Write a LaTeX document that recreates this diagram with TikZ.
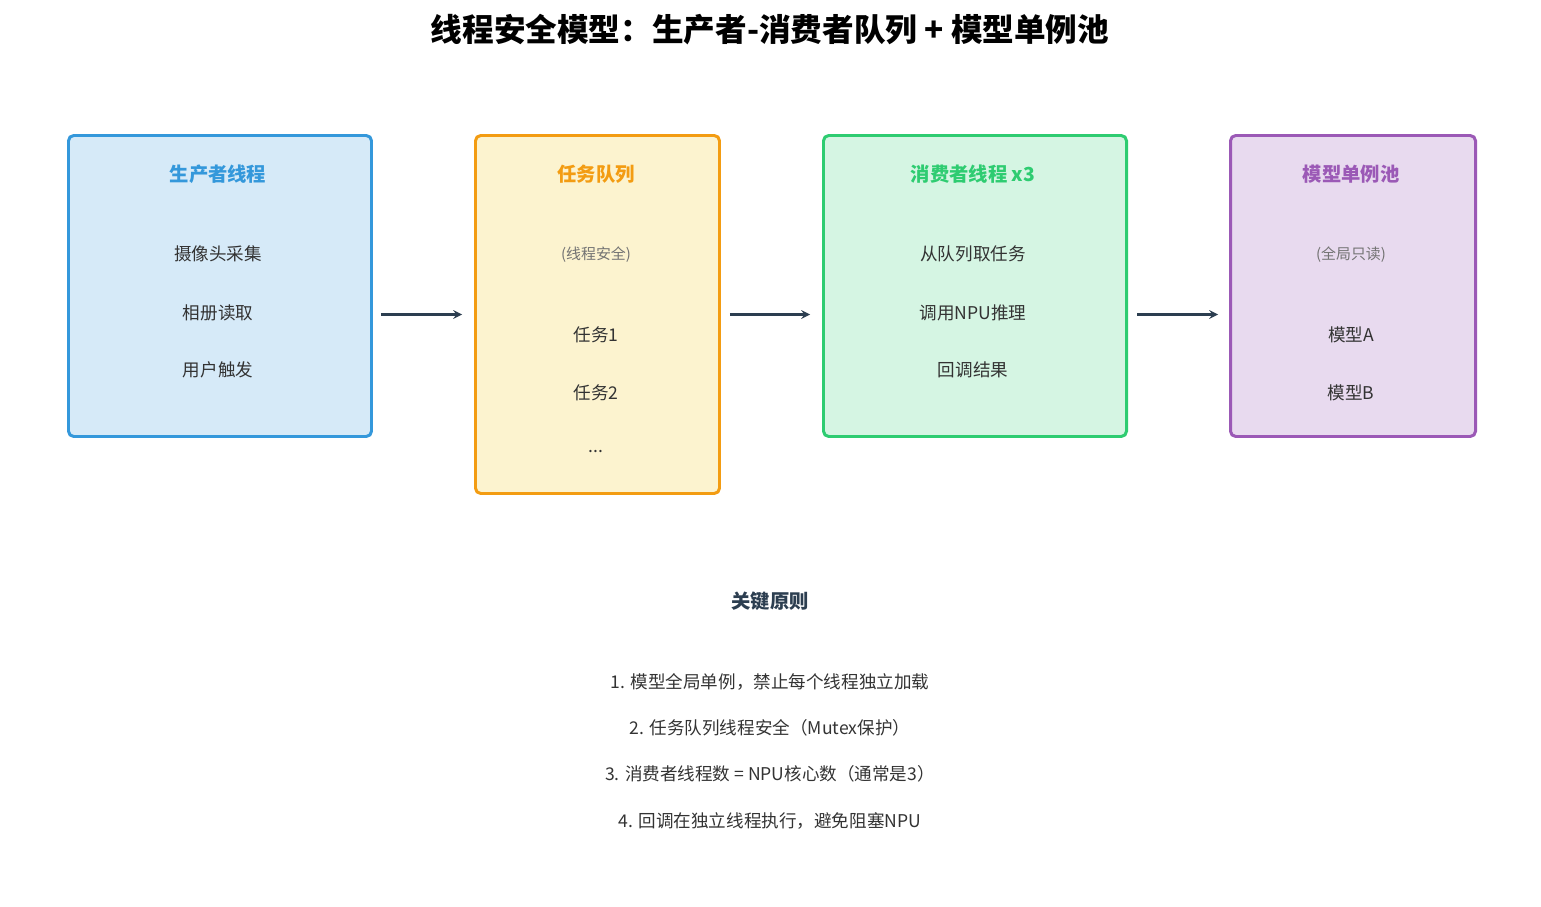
\documentclass[tikz,border=0pt]{standalone}
\usepackage{fontspec}
\setmainfont{Noto Sans CJK SC}
\usepackage{tikz}
\definecolor{pblue}{HTML}{3498DB}\definecolor{pbluef}{HTML}{D6EAF8}
\definecolor{qyel}{HTML}{F39C12}\definecolor{qyelf}{HTML}{FCF3CF}
\definecolor{cgrn}{HTML}{2ECC71}\definecolor{cgrnf}{HTML}{D5F5E3}
\definecolor{mpur}{HTML}{9B59B6}\definecolor{mpurf}{HTML}{E8DAEF}
\definecolor{dark}{HTML}{2C3E50}\definecolor{txt}{HTML}{333333}
\tikzset{
  box/.style={draw,line width=1.7pt,rounded corners=3pt,anchor=north west},
  head/.style={font=\fontsize{11}{13}\selectfont\bfseries},
  item/.style={text=txt,font=\fontsize{10}{12}\selectfont},
  note/.style={text=gray!90!black,font=\fontsize{8.5}{10}\selectfont},
  arr/.style={-stealth,line width=1.2pt,draw=dark}
}
\begin{document}
\begin{tikzpicture}[x=0.02cm,y=-0.02cm]
\useasboundingbox (0,0) rectangle (1541,906);

\node[font=\fontsize{18}{22}\selectfont\bfseries] (title) at (770,30) {线程安全模型：生产者-消费者队列 + 模型单例池};

\node[box,draw=pblue,fill=pbluef,minimum width=303*0.02cm,minimum height=301*0.02cm] (prod) at (67,134) {};
\node[box,draw=qyel,fill=qyelf,minimum width=244*0.02cm,minimum height=358*0.02cm] (queue) at (474,134) {};
\node[box,draw=cgrn,fill=cgrnf,minimum width=303*0.02cm,minimum height=301*0.02cm] (cons) at (822,134) {};
\node[box,draw=mpur,fill=mpurf,minimum width=245*0.02cm,minimum height=301*0.02cm] (pool) at (1229,134) {};

\node[head,text=pblue] (prodh) at (218,174) {生产者线程};
\node[item] (p1) at (218,254) {摄像头采集};
\node[item] (p2) at (218,313) {相册读取};
\node[item] (p3) at (218,370) {用户触发};

\node[head,text=qyel] (queueh) at (596,174) {任务队列};
\node[note] (q0) at (596,255) {(线程安全)};
\node[item] (q1) at (596,335) {任务1};
\node[item] (q2) at (596,393) {任务2};
\node[item] (q3) at (596,452) {...};

\node[head,text=cgrn] (consh) at (973,174) {消费者线程 x3};
\node[item] (c1) at (973,254) {从队列取任务};
\node[item] (c2) at (973,313) {调用NPU推理};
\node[item] (c3) at (973,370) {回调结果};

\node[head,text=mpur] (poolh) at (1351,174) {模型单例池};
\node[note] (m0) at (1351,255) {(全局只读)};
\node[item] (m1) at (1351,335) {模型A};
\node[item] (m2) at (1351,393) {模型B};

\draw[arr,shorten <=8*0.02cm,shorten >=12*0.02cm] (queue.west -| prod.east) -- (queue.west);
\draw[arr,shorten <=9*0.02cm,shorten >=12*0.02cm] (queue.east) -- (queue.east -| cons.west);
\draw[arr,shorten <=9*0.02cm,shorten >=11*0.02cm] (queue.west -| cons.east) -- (queue.west -| pool.west);

\node[head,text=dark] (rules) at (770,601) {关键原则};
\node[item] (r1) at (770,682) {1. 模型全局单例，禁止每个线程独立加载};
\node[item] (r2) at (770,728) {2. 任务队列线程安全（Mutex保护）};
\node[item] (r3) at (770,774) {3. 消费者线程数 = NPU核心数（通常是3）};
\node[item] (r4) at (770,821) {4. 回调在独立线程执行，避免阻塞NPU};
\end{tikzpicture}
\end{document}
